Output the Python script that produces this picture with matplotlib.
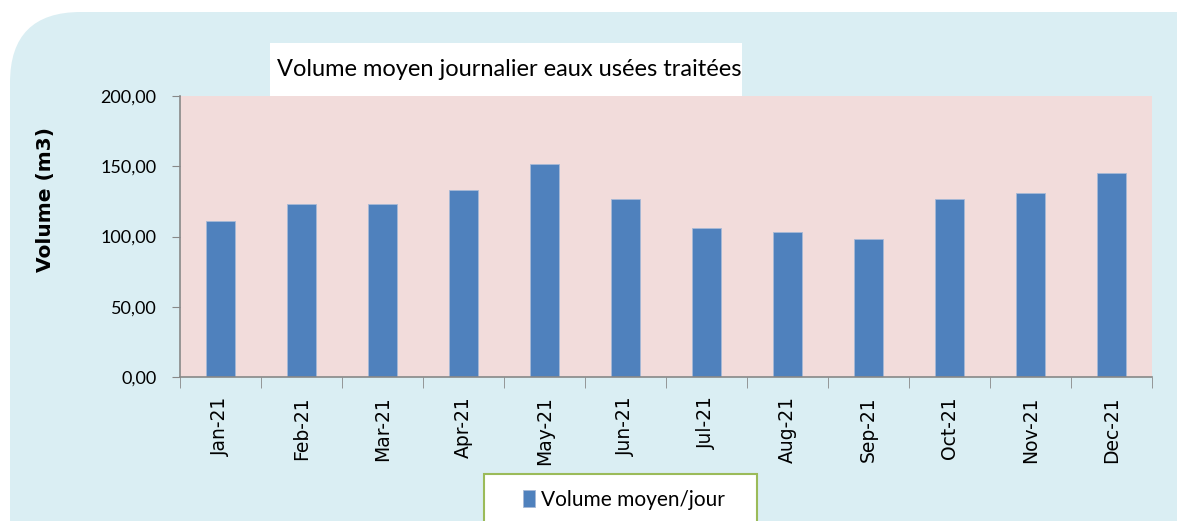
import numpy as np
import matplotlib.pyplot as plt
from matplotlib.patches import FancyBboxPatch, Rectangle
from matplotlib.ticker import FuncFormatter

months = ["Jan-21", "Feb-21", "Mar-21", "Apr-21", "May-21", "Jun-21",
          "Jul-21", "Aug-21", "Sep-21", "Oct-21", "Nov-21", "Dec-21"]
volume = [111.0, 123.3, 123.3, 132.8, 151.3, 126.4,
          106.3, 103.2, 98.4, 126.4, 131.2, 145.0]
yticks = [0, 50, 100, 150, 200]

W, H = 1177, 521
fig = plt.figure(figsize=(W / 100, H / 100), dpi=100, facecolor="white")

# fond bleu arrondi
bg = FancyBboxPatch((10 / W, -0.2), 1.2, 1.2 - 12 / H,
                    boxstyle="round,pad=0,rounding_size=0.06",
                    transform=fig.transFigure, facecolor="#DAEEF3",
                    edgecolor="none", mutation_aspect=W / H, zorder=-1)
fig.patches.append(bg)

ax = fig.add_axes([180 / W, 1 - 377 / H, (1152 - 180) / W, (377 - 96) / H])
ax.set_zorder(1)
ax.set_facecolor("#F2DCDB")

x = np.arange(len(months))
ax.bar(x, volume, width=0.37, color="#4F81BD", edgecolor="#A7B9D6",
       linewidth=0.6, label="Volume moyen/jour", zorder=2)

ax.set_xlim(-0.5, len(months) - 0.5)
ax.set_ylim(0, 200)
ax.set_yticks(yticks)
ax.yaxis.set_major_formatter(FuncFormatter(lambda v, p: f"{v:.2f}".replace(".", ",")))
ax.set_xticks(x)
ax.set_xticklabels(months, rotation=90, fontsize=13.5,
                   family="DejaVu Sans")
ax.set_xticks(np.arange(-0.5, len(months)), minor=True)
ax.tick_params(axis="x", which="major", length=0, pad=14)
ax.tick_params(axis="x", which="minor", length=8, color="#888888", direction="out")
ax.tick_params(axis="y", length=6, color="#888888", labelsize=13, pad=11)
for lab in ax.get_yticklabels():
    lab.set_family("Lato")

for s in ["top", "right"]:
    ax.spines[s].set_visible(False)
for s in ["left", "bottom"]:
    ax.spines[s].set_color("#888888")
    ax.spines[s].set_linewidth(1.2)

fig.text(45 / W, 1 - 200 / H, "Volume (m3)", rotation=90, ha="center",
         va="center", fontsize=14.5, fontweight="bold", family="DejaVu Sans")

# boîte du titre
fig.patches.append(Rectangle((270 / W, 1 - 96 / H), (742 - 270) / W, (96 - 43) / H,
                             transform=fig.transFigure, facecolor="white",
                             edgecolor="none", zorder=3))
fig.text(509 / W, 1 - 70 / H, "Volume moyen journalier eaux usées traitées",
         ha="center", va="center", fontsize=17, family="Lato", zorder=4)

# légende
fig.patches.append(Rectangle((484 / W, -0.05), (757 - 484) / W, 0.05 + 1 - 474 / H,
                             transform=fig.transFigure, facecolor="white",
                             edgecolor="#9BBB59", linewidth=1.5, zorder=3))
leg = fig.legend(loc="center", bbox_to_anchor=(624 / W, 1 - 500 / H),
                 frameon=False, prop={"family": "Lato", "size": 15},
                 handlelength=0.6, handleheight=0.9, handletextpad=0.3)
leg.set_zorder(4)

fig.savefig("out.png", dpi=100, facecolor="white")
